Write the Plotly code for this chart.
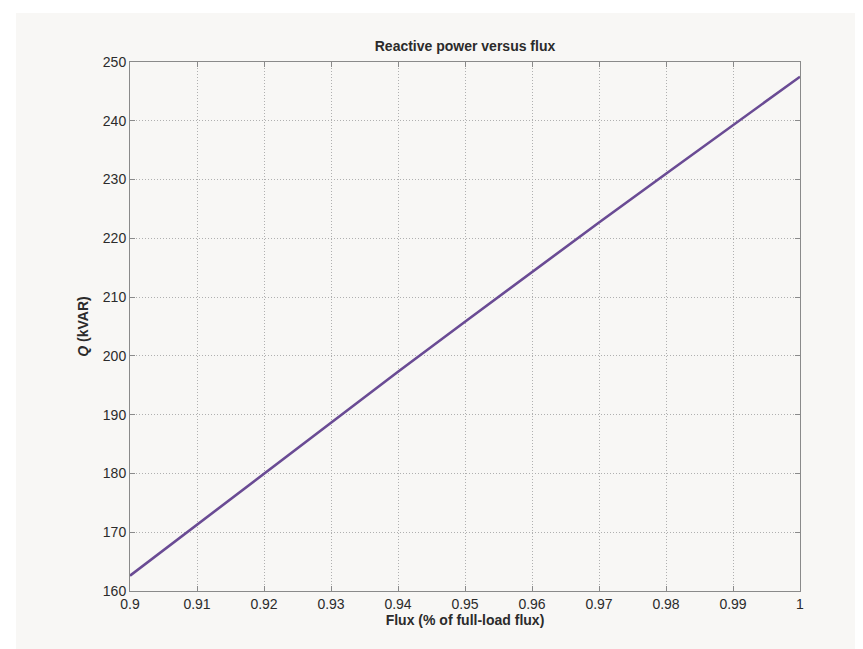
import plotly.graph_objects as go

flux = [0.90, 0.91, 0.92, 0.93, 0.94, 0.95, 0.96, 0.97, 0.98, 0.99, 1.00]
q_kvar = [162.6, 171.3, 180.0, 188.7, 197.3, 205.8, 214.3, 222.7, 231.0, 239.3, 247.5]

x_ticks = [0.90, 0.91, 0.92, 0.93, 0.94, 0.95, 0.96, 0.97, 0.98, 0.99, 1.00]
x_ticktext = ["0.9", "0.91", "0.92", "0.93", "0.94", "0.95", "0.96", "0.97", "0.98", "0.99", "1"]
y_ticks = [160, 170, 180, 190, 200, 210, 220, 230, 240, 250]

BG = "#f8f7f5"
TXT = "#2b2b2b"
AX = "#8a8a8a"
FONT = "Liberation Sans, Arial, Helvetica, sans-serif"

fig = go.Figure()
fig.add_trace(go.Scatter(x=flux, y=q_kvar, mode="lines",
                         line=dict(color="#6a4b94", width=2.6),
                         showlegend=False, hoverinfo="skip"))

axis_common = dict(showline=True, linecolor=AX, linewidth=1, mirror="ticks",
                   ticks="inside", ticklen=5, tickcolor=AX, tickwidth=1,
                   showgrid=True, gridcolor="#b0b0b0", griddash="1px,2px", gridwidth=1,
                   zeroline=False, tickfont=dict(family=FONT, size=14, color=TXT))

fig.update_xaxes(range=[0.9, 1.0], tickvals=x_ticks, ticktext=x_ticktext,
                 title=dict(text="<b>Flux (% of full-load flux)</b>",
                            font=dict(family=FONT, size=14, color=TXT), standoff=3),
                 **axis_common)
fig.update_yaxes(range=[160, 250], tickvals=y_ticks,
                 title=dict(text="<b><i>Q</i> (kVAR)</b>",
                            font=dict(family=FONT, size=14, color=TXT), standoff=10),
                 **axis_common)

fig.update_layout(
    width=863, height=649,
    margin=dict(l=122, r=71, t=54, b=66),
    paper_bgcolor="white", plot_bgcolor=BG,
    title=dict(text="<b>Reactive power versus flux</b>", x=(122 + 792) / 2 / 863, xanchor="center",
               y=1 - 38 / 649, yanchor="middle",
               font=dict(family=FONT, size=14, color=TXT)),
    shapes=[dict(type="rect", xref="paper", yref="paper", layer="below",
                 x0=-(122 - 8) / 670, x1=1 + 71 / 670, y0=-66 / 529, y1=1 + (54 - 5) / 529,
                 fillcolor=BG, line=dict(width=0))],
)

fig.write_html("out.html")
